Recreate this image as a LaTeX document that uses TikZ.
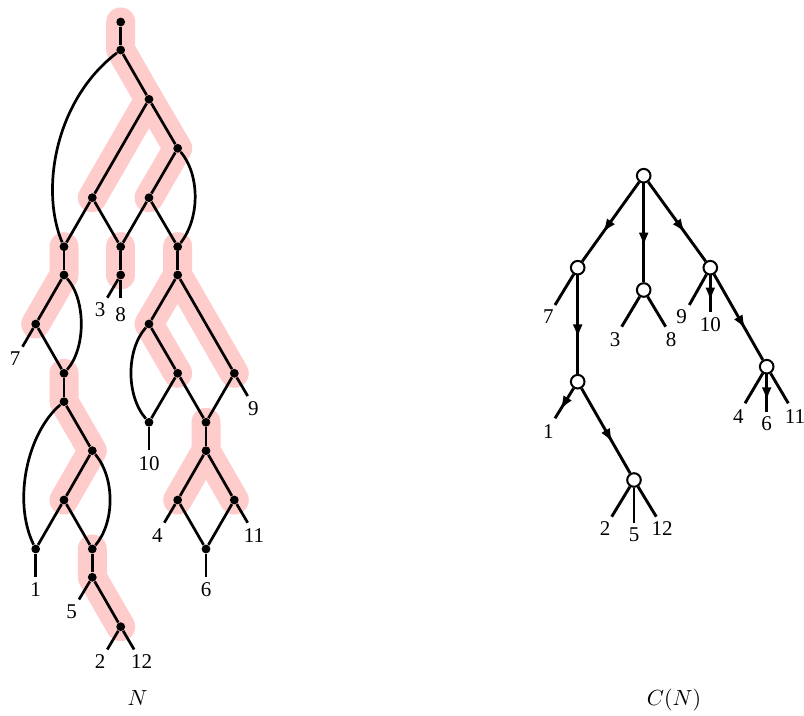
\documentclass[tikz,border=0pt]{standalone}
\usepackage{fontspec}
\setmainfont{Liberation Serif}
\usetikzlibrary{arrows.meta,decorations.markings}
\pgfdeclarelayer{background}
\pgfsetlayers{background,main}
\definecolor{hlpink}{RGB}{255,204,204}
\begin{document}
\begin{tikzpicture}[x=0.5pt,y=-0.5pt,
  dot/.style={circle,fill=black,inner sep=0pt,minimum size=4.4pt},
  edge/.style={line width=1.35pt},
  hl/.style={line width=14.5pt,draw=hlpink,line cap=round,line join=round},
  cnode/.style={circle,draw,line width=1pt,fill=white,inner sep=0pt,minimum size=6.8pt},
  redge/.style={line width=1.45pt},
  marr/.style={postaction={decorate},decoration={markings,mark=at position #1 with {\arrow{Latex[length=7pt,width=5pt]}}}},
  lbl/.style={font=\fontsize{10.5}{12}\selectfont,inner sep=0pt}]
\useasboundingbox (0,0) rectangle (804,716);

% ---------- left network N : vertices ----------
\node[dot] (r0) at (120.7,22) {};
\node[dot] (r1) at (120.7,50) {};
\node[dot] (a) at (149,99.3) {};
\node[dot] (b) at (177.7,148.3) {};
\node[dot] (c) at (92.3,197.7) {};
\node[dot] (d) at (149,197.7) {};
\node[dot] (e) at (64,246.7) {};
\node[dot] (f) at (120.7,246.7) {};
\node[dot] (g) at (177.7,246.7) {};
\node[dot] (e2) at (64,275) {};
\node[dot] (f2) at (120.7,275) {};
\node[dot] (g2) at (177.7,275) {};
\node[dot] (h) at (35.7,324) {};
\node[dot] (i) at (149,324) {};
\node[dot] (j) at (64,373.3) {};
\node[dot] (q) at (177.7,373.3) {};
\node[dot] (p) at (234.3,373.3) {};
\node[dot] (j2) at (64,401.7) {};
\node[dot] (r) at (149,422.3) {};
\node[dot] (s) at (206,422.3) {};
\node[dot] (k) at (92.3,450.7) {};
\node[dot] (s2) at (206,450.7) {};
\node[dot] (l) at (64,500) {};
\node[dot] (t) at (177.7,500) {};
\node[dot] (u) at (234.3,500) {};
\node[dot] (m) at (35.7,549) {};
\node[dot] (n) at (92.3,549) {};
\node[dot] (v) at (206,549) {};
\node[dot] (n2) at (92.3,577.3) {};
\node[dot] (o) at (120.7,626.7) {};

% leaf ends
\coordinate (L3) at (107.3,297.7);
\coordinate (L8) at (120.7,297.7);
\coordinate (L7) at (22.5,346.7);
\coordinate (L1) at (35.7,577);
\coordinate (L5) at (79,599.5);
\coordinate (L2) at (107.3,649.5);
\coordinate (L12) at (134.1,649.5);
\coordinate (L10) at (149,450.5);
\coordinate (L9) at (247.7,396);
\coordinate (L4) at (164.3,522.7);
\coordinate (L11) at (247.7,522.7);
\coordinate (L6) at (206,577.3);

% highlights
\begin{pgfonlayer}{background}
\draw[hl] (r0.center)--(r1.center)--(a.center)--(b.center)--(d.center)
          (a.center)--(c.center);
\draw[hl] (e.center)--(e2.center)--(h.center);
\draw[hl] (f.center)--(f2.center);
\draw[hl] (g.center)--(g2.center)--(i.center)--(q.center)
          (g2.center)--(p.center);
\draw[hl] (j.center)--(j2.center)--(k.center)--(l.center);
\draw[hl] (s.center)--(s2.center)--(t.center)
          (s2.center)--(u.center);
\draw[hl] (n.center)--(n2.center)--(o.center);
\end{pgfonlayer}

% straight edges
\foreach \x/\y in {r0/r1,r1/a,a/b,a/c,b/d,c/e,c/f,d/f,d/g,e/e2,f/f2,g/g2,
  e2/h,g2/i,g2/p,h/j,i/q,q/r,q/s,p/s,j/j2,j2/k,s/s2,k/l,s2/t,s2/u,
  l/m,l/n,t/v,u/v,n/n2,n2/o}
  \draw[edge] (\x) -- (\y);

% curved edges
\draw[edge] (r1) .. controls (55,100) and (40,190) .. (e);
\draw[edge] (b) .. controls (200,175) and (200,218) .. (g);
\draw[edge] (e2) .. controls (86,300) and (86,348) .. (j);
\draw[edge] (j2) .. controls (28,432) and (12,500) .. (m);
\draw[edge] (k) .. controls (115,478) and (115,522) .. (n);
\draw[edge] (i) .. controls (126,350) and (126,396) .. (r);

% leaf edges
\foreach \x/\y in {f2/L3,f2/L8,h/L7,m/L1,n2/L5,o/L2,o/L12,r/L10,p/L9,t/L4,u/L11,v/L6}
  \draw[edge] (\x) -- (\y);

% labels
\node[lbl] (t3) at (100,310) {3};
\node[lbl] (t8) at (120.7,315) {8};
\node[lbl] (t7) at (15,358.3) {7};
\node[lbl] (t1) at (35.7,589.3) {1};
\node[lbl] (t5) at (71.7,611.7) {5};
\node[lbl] (t2) at (100,661.7) {2};
\node[lbl] (t12) at (141.7,661.7) {12};
\node[lbl] (t10) at (149,463.3) {10};
\node[lbl] (t9) at (253.3,408.3) {9};
\node[lbl] (t4) at (157.3,535.7) {4};
\node[lbl] (t11) at (254,535.7) {11};
\node[lbl] (t6) at (206,589.3) {6};
\node[lbl] (tN) at (137.7,698.5) {$N$};

% ---------- right tree C(N) ----------
\node[cnode] (R) at (643.7,175.7) {};
\node[cnode] (A) at (577.7,267.7) {};
\node[cnode] (B) at (643.7,290) {};
\node[cnode] (C) at (710.3,267.7) {};
\node[cnode] (D) at (577.7,381.7) {};
\node[cnode] (E) at (634,480) {};
\node[cnode] (F) at (766.7,366.7) {};

\coordinate (M7) at (555,305);
\coordinate (M3) at (621.7,326.7);
\coordinate (M8) at (665.7,326.7);
\coordinate (M9) at (689.3,305);
\coordinate (M10) at (710.3,311.7);
\coordinate (M1) at (555,418.3);
\coordinate (M2) at (611.7,516.7);
\coordinate (M5) at (634,523.3);
\coordinate (M12) at (656.3,516.7);
\coordinate (M4) at (745,403.3);
\coordinate (M6) at (766.7,411.7);
\coordinate (M11) at (788.3,403.3);

\foreach \x/\y in {R/A,R/B,R/C,A/D,D/E,C/F}
  \draw[redge,marr=0.64] (\x) -- (\y);
\foreach \x/\y in {C/M10,D/M1,F/M6}
  \draw[redge,marr=0.72] (\x) -- (\y);
\foreach \x/\y in {A/M7,B/M3,B/M8,C/M9,E/M2,E/M5,E/M12,F/M4,F/M11}
  \draw[redge] (\x) -- (\y);

\node[lbl] (s7) at (548.3,316.7) {7};
\node[lbl] (s3) at (615,340) {3};
\node[lbl] (s8) at (671,340) {8};
\node[lbl] (s9) at (681.7,316.7) {9};
\node[lbl] (s10) at (710.3,325) {10};
\node[lbl] (s1) at (548.3,431.7) {1};
\node[lbl] (s2l) at (605,528.3) {2};
\node[lbl] (s5) at (634,535) {5};
\node[lbl] (s12) at (662,528.3) {12};
\node[lbl] (s4) at (738.3,416.7) {4};
\node[lbl] (s6) at (766.7,423.3) {6};
\node[lbl] (s11) at (795,416.7) {11};
\node[lbl] (tCN) at (674,700) {$C(N)$};
\end{tikzpicture}
\end{document}
